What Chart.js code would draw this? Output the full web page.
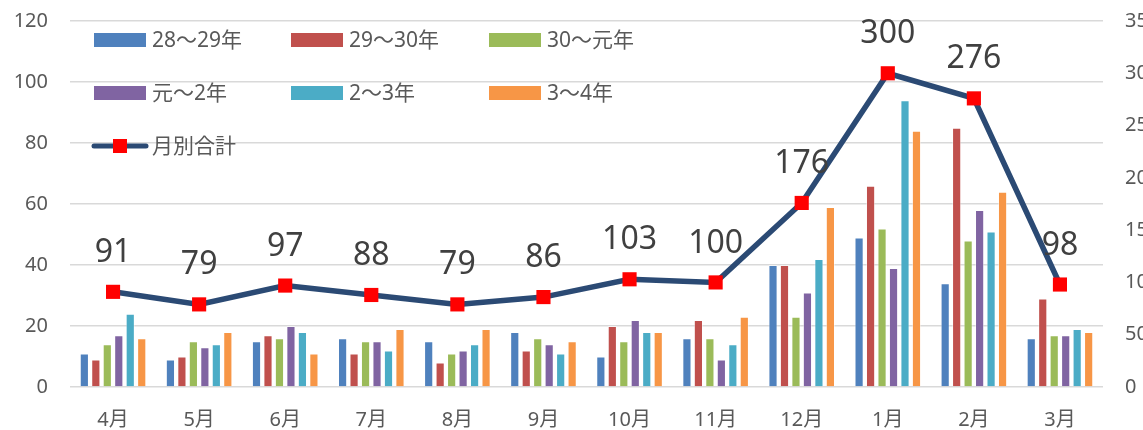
<!DOCTYPE html>
<html>
<head>
<meta charset="utf-8">
<script src="https://cdn.jsdelivr.net/npm/chart.js@4"></script>
<style>
  html, body { margin: 0; padding: 0; background: #fff; overflow: hidden; }
  #wrap { width: 1143px; height: 430px; overflow: hidden; }
  canvas { display: block; }
</style>
</head>
<body>
<div id="wrap"><canvas id="chart" width="1175" height="430"></canvas></div>
<script>
const months = ['4月', '5月', '6月', '7月', '8月', '9月', '10月', '11月', '12月', '1月', '2月', '3月'];
const seriesNames = ['28～29年', '29～30年', '30～元年', '元～2年', '2～3年', '3～4年'];
const totalName = '月別合計';

const s28to29 = [11, 9, 15, 16, 15, 18, 10, 16, 40, 49, 34, 16];
const s29to30 = [9, 10, 17, 11, 8, 12, 20, 22, 40, 66, 85, 29];
const s30toR1 = [14, 15, 16, 15, 11, 16, 15, 16, 23, 52, 48, 17];
const sR1to2 = [17, 13, 20, 15, 12, 14, 22, 9, 31, 39, 58, 17];
const s2to3 = [24, 14, 18, 12, 14, 11, 18, 14, 42, 94, 51, 19];
const s3to4 = [16, 18, 11, 19, 19, 15, 18, 23, 59, 84, 64, 18];
const monthlyTotal = [91, 79, 97, 88, 79, 86, 103, 100, 176, 300, 276, 98];

const barColors = ['#4F81BD', '#C0504D', '#9BBB59', '#8064A2', '#4BACC6', '#F79646'];
const lineColor = '#2B4A74';
const markerColor = '#FF0000';
const textColor = '#595959';
const FONT = "'Noto Sans', 'Noto Sans CJK JP', sans-serif";

const barSeries = [s28to29, s29to30, s30toR1, sR1to2, s2to3, s3to4];

const datasets = barSeries.map((values, i) => ({
  type: 'bar',
  label: seriesNames[i],
  data: values,
  backgroundColor: barColors[i],
  borderColor: 'rgba(255,255,255,0.45)',
  borderWidth: 1,
  yAxisID: 'y',
  categoryPercentage: 0.8,
  barPercentage: 0.8,
  order: 1,
}));

datasets.push({
  type: 'line',
  label: totalName,
  data: monthlyTotal,
  borderColor: lineColor,
  borderWidth: 5.5,
  pointStyle: 'rect',
  pointRadius: 10,
  pointHoverRadius: 10,
  pointBackgroundColor: markerColor,
  pointBorderColor: markerColor,
  pointBorderWidth: 0,
  tension: 0,
  yAxisID: 'y2',
  order: 0,
});

// legend inside the plot, upper left (3 columns)
const cornerLegend = {
  id: 'cornerLegend',
  afterDraw(chart) {
    const ctx = chart.ctx;
    const cols = [94, 291, 489];
    const rows = [40, 93, 146];
    ctx.save();
    ctx.font = '21px ' + FONT;
    ctx.textBaseline = 'middle';
    ctx.textAlign = 'left';
    chart.data.datasets.forEach((ds, i) => {
      const x = cols[i % 3];
      const y = rows[Math.floor(i / 3)];
      if (ds.type === 'bar') {
        ctx.fillStyle = ds.backgroundColor;
        ctx.fillRect(x, y - 7, 52, 14);
      } else {
        ctx.strokeStyle = ds.borderColor;
        ctx.lineWidth = 5;
        ctx.lineCap = 'round';
        ctx.beginPath();
        ctx.moveTo(x, y);
        ctx.lineTo(x + 52, y);
        ctx.stroke();
        ctx.fillStyle = markerColor;
        ctx.fillRect(x + 19, y - 7, 14, 14);
      }
      ctx.fillStyle = textColor;
      ctx.fillText(ds.label, x + 58, y + 1);
    });
    ctx.restore();
  },
};

// total values above the line markers
const totalLabels = {
  id: 'totalLabels',
  afterDatasetsDraw(chart) {
    const ctx = chart.ctx;
    const meta = chart.getDatasetMeta(chart.data.datasets.length - 1);
    ctx.save();
    ctx.font = '32px ' + FONT;
    ctx.fillStyle = '#404040';
    ctx.textAlign = 'center';
    ctx.textBaseline = 'middle';
    meta.data.forEach((pt, i) => {
      ctx.fillText(String(monthlyTotal[i]), pt.x, pt.y - 39);
    });
    ctx.restore();
  },
};

function fixVertical(width) {
  return (scale) => {
    scale.width = width;
    scale.paddingTop = 0;
    scale.paddingBottom = 0;
  };
}

const ctx = document.getElementById('chart').getContext('2d');
const chart = new Chart(ctx, {
  type: 'bar',
  data: { labels: months, datasets },
  options: {
    responsive: false,
    animation: false,
    devicePixelRatio: 1,
    layout: { padding: { top: 21, left: 0, right: 0, bottom: 0 } },
    plugins: {
      legend: { display: false },
      tooltip: { enabled: false },
    },
    scales: {
      x: {
        grid: { display: false },
        border: { display: false },
        ticks: { color: textColor, font: { family: FONT, size: 20 }, padding: 13, maxRotation: 0 },
        afterFit: (scale) => { scale.height = 43; scale.paddingLeft = 0; scale.paddingRight = 0; },
      },
      y: {
        position: 'left',
        min: 0,
        max: 120,
        ticks: { stepSize: 20, color: textColor, font: { family: FONT, size: 20 }, padding: 22 },
        grid: { color: '#D9D9D9', lineWidth: 1.5, drawTicks: false },
        border: { display: false },
        afterFit: fixVertical(70),
      },
      y2: {
        position: 'right',
        min: 0,
        max: 350,
        ticks: { stepSize: 50, color: textColor, font: { family: FONT, size: 20 }, padding: 22 },
        grid: { display: false, drawTicks: false },
        border: { display: false },
        afterFit: fixVertical(72),
      },
    },
  },
  plugins: [cornerLegend, totalLabels],
});
</script>
</body>
</html>
